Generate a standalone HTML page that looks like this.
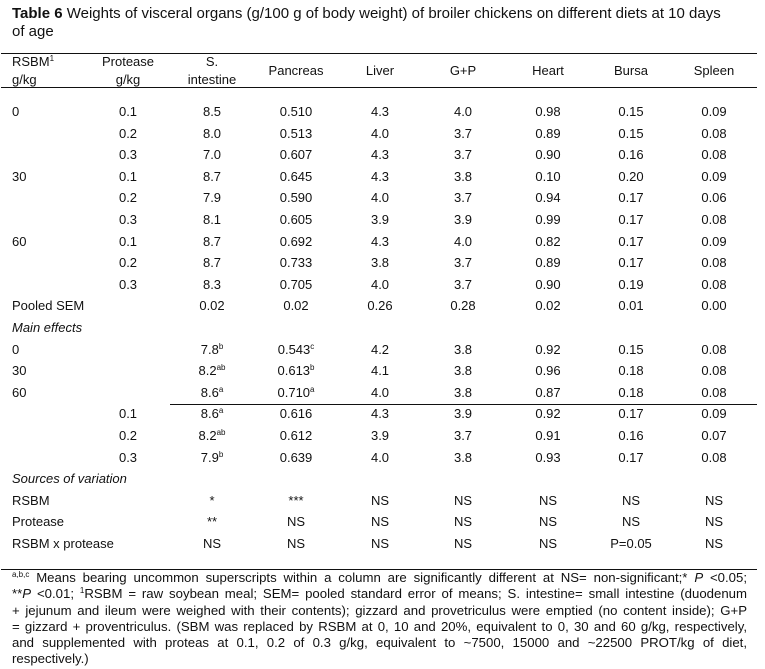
<!DOCTYPE html>
<html><head><meta charset="utf-8"><style>
body{margin:0;background:#fff;width:765px;height:669px;overflow:hidden;position:relative;font-family:"Liberation Sans",Arial,sans-serif;color:#111}
.t{position:absolute;font-size:13px;white-space:nowrap;line-height:16px}
.c{transform:translateX(-50%)}
.rule{position:absolute;left:1px;width:756px;height:1.3px;background:#111}
sup{font-size:8px;vertical-align:5px;line-height:0}
.title{position:absolute;left:12px;top:5px;font-size:15px;line-height:18px;width:715px}
.fn{position:absolute;left:12px;width:735px;font-size:13.2px;line-height:16.3px}
.fn div{text-align:justify;text-align-last:justify;white-space:nowrap;overflow:visible}
.fn div.last{text-align-last:left}
</style></head><body>
<div class="title"><b>Table 6</b> Weights of visceral organs (g/100 g of body weight) of broiler chickens on different diets at 10 days of age</div>
<div class="rule" style="top:53px"></div>
<div class="rule" style="top:87px"></div>
<div class="rule" style="top:404px;left:170px;width:587px"></div>
<div class="rule" style="top:569px"></div>
<div id="tbl"></div>
<div class="fn" style="top:570px">
<div><sup>a,b,c</sup> Means bearing uncommon superscripts within a column are significantly different at NS= non-significant;* <i>P</i> &lt;0.05;</div>
<div>**<i>P</i> &lt;0.01; <sup>1</sup>RSBM = raw soybean meal; SEM= pooled standard error of means; S. intestine= small intestine (duodenum</div>
<div>+ jejunum and ileum were weighed with their contents); gizzard and provetriculus were emptied (no content inside); G+P</div>
<div>= gizzard + proventriculus. (SBM was replaced by RSBM at 0, 10 and 20%, equivalent to 0, 30 and 60 g/kg, respectively,</div>
<div>and supplemented with proteas at 0.1, 0.2 of 0.3 g/kg, equivalent to ~7500, 15000 and ~22500 PROT/kg of diet,</div>
<div class="last">respectively.)</div>
</div>
<script>
const colX=[12,128,212,296,380,463,548,631,714];
const headers=[["RSBM<sup>1</sup>","g/kg"],["Protease","g/kg"],["S.","intestine"],["Pancreas"],["Liver"],["G+P"],["Heart"],["Bursa"],["Spleen"]];
const rows=[
["0","0.1","8.5","0.510","4.3","4.0","0.98","0.15","0.09"],
["","0.2","8.0","0.513","4.0","3.7","0.89","0.15","0.08"],
["","0.3","7.0","0.607","4.3","3.7","0.90","0.16","0.08"],
["30","0.1","8.7","0.645","4.3","3.8","0.10","0.20","0.09"],
["","0.2","7.9","0.590","4.0","3.7","0.94","0.17","0.06"],
["","0.3","8.1","0.605","3.9","3.9","0.99","0.17","0.08"],
["60","0.1","8.7","0.692","4.3","4.0","0.82","0.17","0.09"],
["","0.2","8.7","0.733","3.8","3.7","0.89","0.17","0.08"],
["","0.3","8.3","0.705","4.0","3.7","0.90","0.19","0.08"],
["Pooled SEM","","0.02","0.02","0.26","0.28","0.02","0.01","0.00"],
["<i>Main effects</i>","","","","","","","",""],
["0","","7.8<sup>b</sup>","0.543<sup>c</sup>","4.2","3.8","0.92","0.15","0.08"],
["30","","8.2<sup>ab</sup>","0.613<sup>b</sup>","4.1","3.8","0.96","0.18","0.08"],
["60","","8.6<sup>a</sup>","0.710<sup>a</sup>","4.0","3.8","0.87","0.18","0.08"],
["","0.1","8.6<sup>a</sup>","0.616","4.3","3.9","0.92","0.17","0.09"],
["","0.2","8.2<sup>ab</sup>","0.612","3.9","3.7","0.91","0.16","0.07"],
["","0.3","7.9<sup>b</sup>","0.639","4.0","3.8","0.93","0.17","0.08"],
["<i>Sources of variation</i>","","","","","","","",""],
["RSBM","","*","***","NS","NS","NS","NS","NS"],
["Protease","","**","NS","NS","NS","NS","NS","NS"],
["RSBM x protease","","NS","NS","NS","NS","NS","P=0.05","NS"]
];
const tbl=document.getElementById('tbl');
function put(html,x,yc,center,name){
 const d=document.createElement('div');
 d.className='t'+(center?' c':'');
 d.innerHTML=html;d.style.left=x+'px';d.style.top=(yc-8)+'px';
 
 
 tbl.appendChild(d);
}
headers.forEach((h,i)=>{
 if(h.length==2){put(h[0],colX[i],62,i>0,'header-'+i+'-line1');put(h[1],colX[i],80,i>0,'header-'+i+'-line2');}
 else put(h[0],colX[i],71,i>0,'header-'+i);
});
rows.forEach((r,ri)=>{
 const y=112+21.6*ri;
 r.forEach((v,ci)=>{ if(v!=='') put(v,colX[ci],y,ci>0,'cell-r'+ri+'-c'+ci); });
});
</script>
</body></html>
